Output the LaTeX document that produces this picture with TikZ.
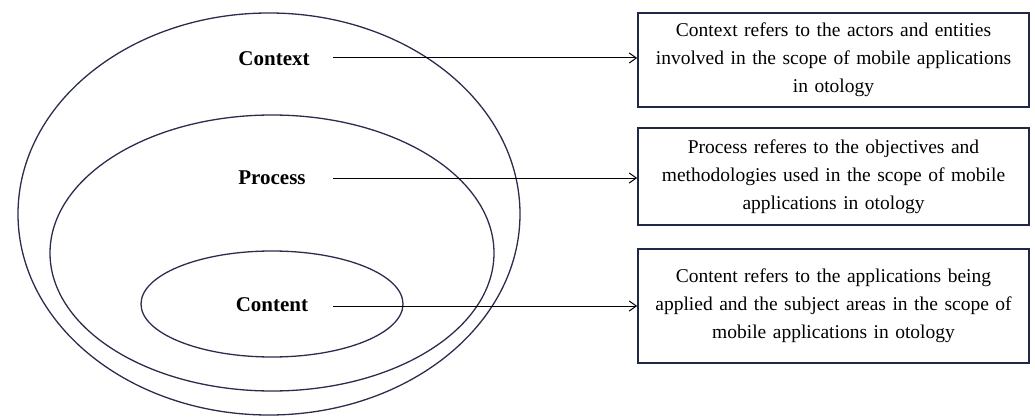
\documentclass[tikz,border=0pt]{standalone}
\usepackage{fontspec}
\setmainfont{Liberation Serif}
\usetikzlibrary{arrows.meta}
\definecolor{ink}{HTML}{2A2E4C}
\definecolor{boxink}{HTML}{1F2847}
\tikzset{
  ring/.style={draw=ink, line width=1.3pt},
  lbl/.style={font=\fontsize{21}{28}\selectfont\bfseries, inner sep=0pt},
  desc/.style={draw=boxink, line width=1.8pt, minimum width=391pt, text width=391pt,
    align=center, inner sep=0pt, font=\fontsize{19.5}{28}\selectfont},
  arr/.style={draw=black, line width=1pt, -{Straight Barb[length=7pt,width=10pt]}}
}
\begin{document}
\begin{tikzpicture}[x=1pt,y=-1pt]
\useasboundingbox (0,0) rectangle (1035,417);
\draw[ring] (269,214) ellipse[x radius=251, y radius=201];
\draw[ring] (272,253) ellipse[x radius=222, y radius=138];
\draw[ring] (272,304) ellipse[x radius=131, y radius=53];
\node[lbl] (ctx) at (274,59) {Context};
\node[lbl] (prc) at (272,178) {Process};
\node[lbl] (cnt) at (272,305) {Content};
\node[desc, minimum height=94pt] (b1) at (833.5,60)
  {Context refers to the actors and entities\\involved in the scope of mobile applications\\in otology};
\node[desc, minimum height=97pt] (b2) at (833.5,176.5)
  {Process referes to the objectives and\\methodologies used in the scope of mobile\\applications in otology};
\node[desc, minimum height=114pt] (b3) at (833.5,306)
  {Content refers to the applications being\\applied and the subject areas in the scope of\\mobile applications in otology};
\coordinate (s1) at (333,58);
\coordinate (s2) at (333,178);
\coordinate (s3) at (333,306);
\draw[arr] (s1) -- (s1 -| b1.west);
\draw[arr] (s2) -- (s2 -| b2.west);
\draw[arr] (s3) -- (s3 -| b3.west);
\end{tikzpicture}
\end{document}
